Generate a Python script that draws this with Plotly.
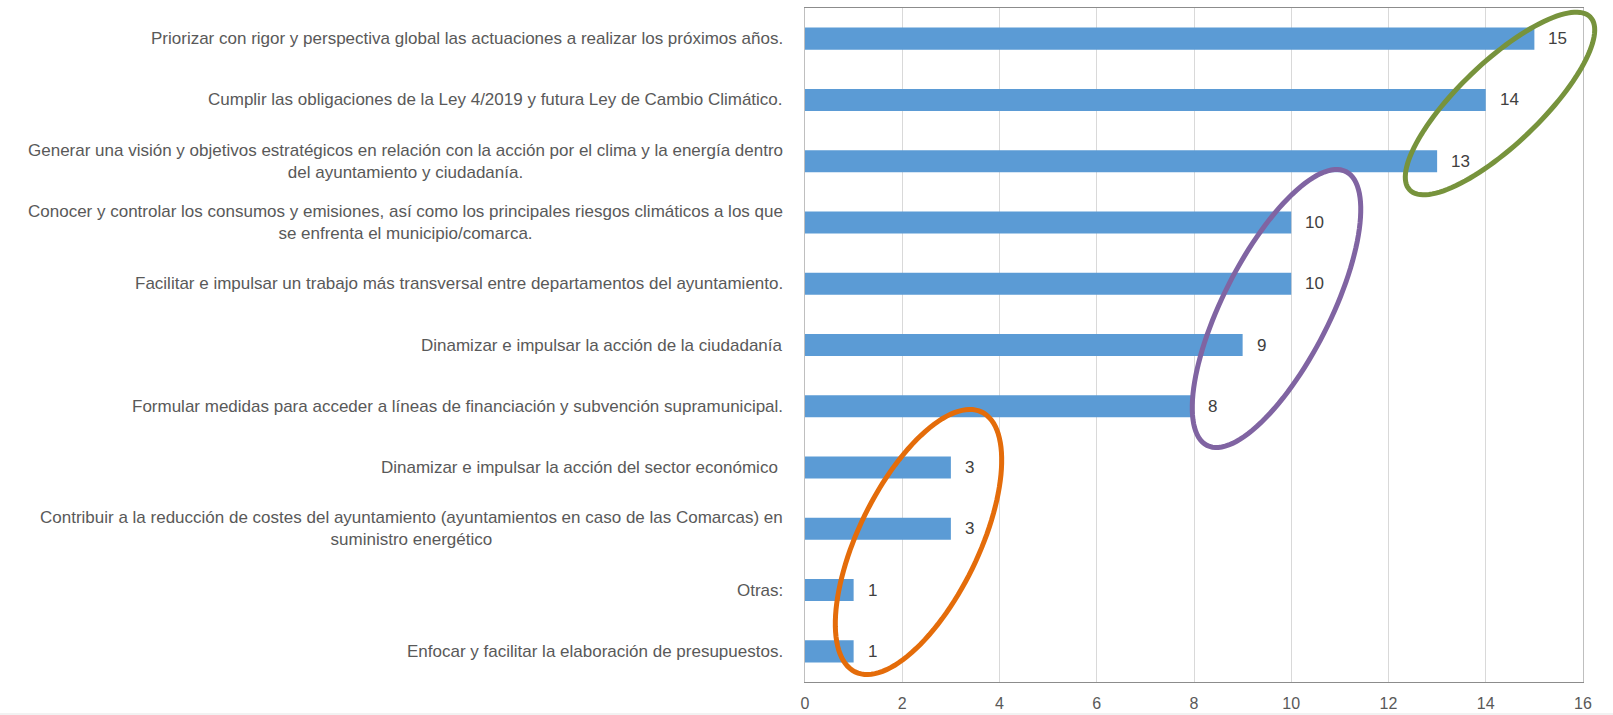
import numpy as np
import plotly.graph_objects as go

categories = [
    "Priorizar con rigor y perspectiva global las actuaciones a realizar los próximos años.",
    "Cumplir las obligaciones de la Ley 4/2019 y futura Ley de Cambio Climático.",
    "Generar una visión y objetivos estratégicos en relación con la acción por el clima y la energía dentro<br>del ayuntamiento y ciudadanía.",
    "Conocer y controlar los consumos y emisiones, así como los principales riesgos climáticos a los que<br>se enfrenta el municipio/comarca.",
    "Facilitar e impulsar un trabajo más transversal entre departamentos del ayuntamiento.",
    "Dinamizar e impulsar la acción de la ciudadanía",
    "Formular medidas para acceder a líneas de financiación y subvención supramunicipal.",
    "Dinamizar e impulsar la acción del sector económico ",
    "Contribuir a la reducción de costes del ayuntamiento (ayuntamientos en caso de las Comarcas) en<br>suministro energético",
    "Otras:",
    "Enfocar y facilitar la elaboración de presupuestos.",
]
values = [15, 14, 13, 10, 10, 9, 8, 3, 3, 1, 1]
x_ticks = [0, 2, 4, 6, 8, 10, 12, 14, 16]

W, H = 1613, 715
L, R, T, B = 805, 30, 8, 33
PW, PH = W - L - R, H - T - B

FONT = "Liberation Sans Narrow, Arial Narrow, sans-serif"
GRAY = "#595959"

fig = go.Figure()
fig.add_trace(go.Bar(
    y=categories, x=values, orientation="h",
    marker=dict(color="#5B9BD5", line=dict(width=0)),
    width=0.36, hoverinfo="x+y",
))

annotations = []
for c, v in zip(categories, values):
    annotations.append(dict(
        x=0, xref="paper", y=c, yref="y", text=c, showarrow=False,
        xanchor="right", yanchor="middle", align="center", xshift=-20,
        font=dict(family=FONT, size=17, color=GRAY),
    ))
    annotations.append(dict(
        x=v, xref="x", y=c, yref="y", text=str(v), showarrow=False,
        xanchor="left", yanchor="middle", xshift=12,
        font=dict(family=FONT, size=17, color="#404040"),
    ))


def to_paper(px, py):
    return (px - L) / PW, (H - B - py) / PH


def ellipse_path(cx, cy, a, b, theta_deg, n=120):
    th = np.radians(theta_deg)
    t = np.linspace(0, 2 * np.pi, n, endpoint=False)
    px = cx + a * np.cos(t) * np.cos(th) - b * np.sin(t) * np.sin(th)
    py = cy - (a * np.cos(t) * np.sin(th) + b * np.sin(t) * np.cos(th))
    xp, yp = to_paper(px, py)
    pts = [f"{x:.5f},{y:.5f}" for x, y in zip(xp, yp)]
    return "M " + " L ".join(pts) + " Z"


ellipses = [
    (1500, 103.5, 125, 41, 43.7, "#77933C"),
    (1276.5, 308.5, 153.5, 53.5, 63.1, "#8064A2"),
    (918.5, 542, 144.5, 60, 64.0, "#E46C0A"),
]
shapes = []
x0p, y0p = to_paper(0, 713)
x1p, y1p = to_paper(W, H + 2)
shapes.append(dict(type="rect", xref="paper", yref="paper", x0=x0p, x1=x1p, y0=y1p, y1=y0p,
                   fillcolor="#F2F2F2", line=dict(width=0), layer="below"))
for cx, cy, a, b, th, col in ellipses:
    shapes.append(dict(
        type="path", xref="paper", yref="paper", path=ellipse_path(cx, cy, a, b, th),
        line=dict(color=col, width=5), fillcolor="rgba(0,0,0,0)", layer="above",
    ))

fig.update_layout(
    width=W, height=H,
    margin=dict(l=L, r=R, t=T, b=B, pad=0, autoexpand=False),
    paper_bgcolor="white", plot_bgcolor="white",
    showlegend=False,
    annotations=annotations,
    shapes=shapes,
    xaxis=dict(
        range=[0, 16], tickvals=x_ticks, ticktext=[str(t) for t in x_ticks],
        showgrid=True, gridcolor="#D9D9D9", gridwidth=1,
        showline=True, linecolor="#8C8C8C", linewidth=1, mirror=True,
        zeroline=False, ticks="", ticklabelstandoff=7, automargin=False,
        tickfont=dict(family=FONT, size=16, color=GRAY),
    ),
    yaxis=dict(
        categoryorder="array", categoryarray=categories, autorange="reversed",
        showticklabels=False, showgrid=False, automargin=False,
        showline=True, linecolor="#BFBFBF", linewidth=1, mirror=True,
        ticks="",
    ),
)

fig.write_html("out.html", config={"displayModeBar": False},
               post_script="document.body.style.margin='0';document.body.style.overflow='hidden';")
